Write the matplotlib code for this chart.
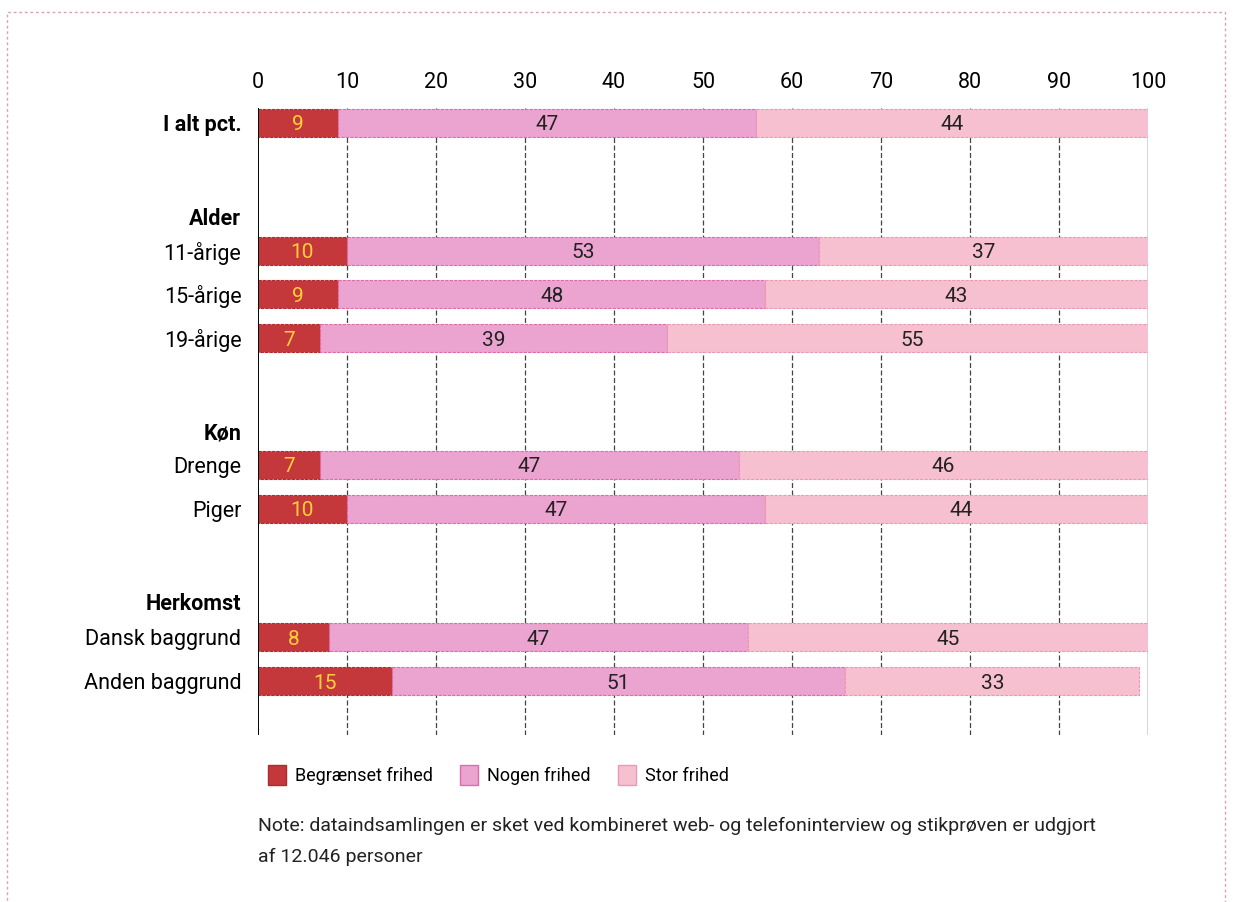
import matplotlib
matplotlib.use("Agg")
import matplotlib.pyplot as plt
from matplotlib.patches import Patch, Rectangle

plt.rcParams['font.family'] = ['Roboto', 'DejaVu Sans']

# rows (None = group header without bar)
labels = ['I alt pct.', 'Alder', '11-årige', '15-årige', '19-årige',
          'Køn', 'Drenge', 'Piger', 'Herkomst', 'Dansk baggrund', 'Anden baggrund']
begraenset = [9, None, 10, 9, 7, None, 7, 10, None, 8, 15]
nogen = [47, None, 53, 48, 39, None, 47, 47, None, 47, 51]
stor = [44, None, 37, 43, 55, None, 46, 44, None, 45, 33]
bold_rows = ['I alt pct.', 'Alder', 'Køn', 'Herkomst']
row_pos = [0, 2.16, 2.94, 3.94, 4.95, 7.08, 7.86, 8.87, 11.01, 11.82, 12.83]

series = ['Begrænset frihed', 'Nogen frihed', 'Stor frihed']
colors = ['#c4383c', '#eba3cf', '#f6c0d0']
edges = ['#b02a30', '#e26aa8', '#eb9ab4']
txt_colors = ['#ffcf3a', '#222222', '#222222']
ticks = [0, 10, 20, 30, 40, 50, 60, 70, 80, 90, 100]

fig = plt.figure(figsize=(12.33, 9.02), dpi=100)
ax = fig.add_axes([258/1233, 1 - 735/902, (1148 - 258)/1233, (735 - 108)/902])
ax.set_xlim(0, 100)
ax.set_ylim(14.07, -0.34)

for t in ticks[1:-1]:
    ax.axvline(t, color='#444444', lw=0.9, ls=(0, (4, 2)), zorder=0)
ax.axvline(100, color='#333333', lw=1.0, zorder=0)
ax.axvline(0, color='black', lw=1.4, zorder=3)

bar_h = 0.64
for i, lab in enumerate(labels):
    if begraenset[i] is None:
        continue
    vals = [begraenset[i], nogen[i], stor[i]]
    left = 0
    for j, v in enumerate(vals):
        ax.barh(row_pos[i], v, left=left, height=bar_h, color=colors[j],
                edgecolor=edges[j], lw=0.8, ls=(0, (3, 1)), zorder=2)
        ax.text(left + v / 2, row_pos[i] + 0.05, str(v), ha='center', va='center',
                fontsize=15, color=txt_colors[j], zorder=4)
        left += v

ax.set_yticks(row_pos)
ax.set_yticklabels(labels, fontsize=15.5)
for tl in ax.get_yticklabels():
    if tl.get_text() in bold_rows:
        tl.set_fontweight('bold')
ax.tick_params(axis='y', length=0, pad=12)

ax.xaxis.tick_top()
ax.set_xticks(ticks)
ax.set_xticklabels([str(t) for t in ticks], fontsize=15.5)
ax.tick_params(axis='x', length=0, pad=11)
for s in ax.spines.values():
    s.set_visible(False)

handles = [Patch(facecolor=colors[k], edgecolor=edges[k], label=series[k]) for k in range(3)]
fig.legend(handles=handles, loc='center left', bbox_to_anchor=(252/1233, 1 - 775/902),
           ncol=3, frameon=False, fontsize=13, handlelength=1.0, handleheight=1.3,
           handletextpad=0.5, columnspacing=1.5)

fig.text(258/1233, 1 - 826/902,
         'Note: dataindsamlingen er sket ved kombineret web- og telefoninterview og stikprøven er udgjort',
         fontsize=14, va='center', ha='left', color='#222222')
fig.text(258/1233, 1 - 857/902, 'af 12.046 personer',
         fontsize=14, va='center', ha='left', color='#222222')

# dotted frame around the figure
fig.patches.append(Rectangle((7/1233, -0.05), (1225 - 7)/1233, 1 - 12/902 + 0.05,
                             transform=fig.transFigure, fill=False,
                             edgecolor='#d9a0b8', lw=1.0, ls=(0, (2, 2))))

fig.savefig('out.png', dpi=100, facecolor='white')
